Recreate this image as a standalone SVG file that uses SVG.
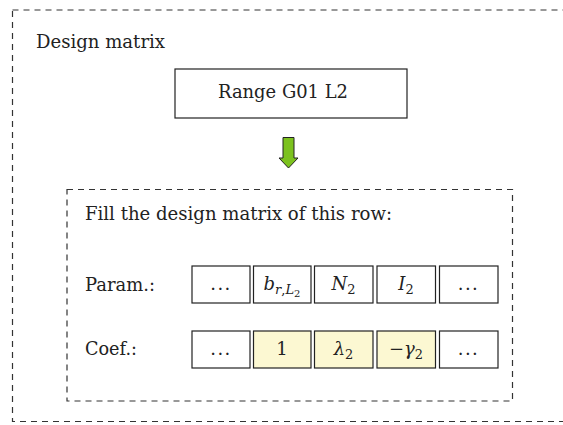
<svg xmlns="http://www.w3.org/2000/svg" width="563" height="425" viewBox="0 0 563 425">
<defs>
<style>
.dash{fill:none;stroke:#333;stroke-width:1.2;stroke-dasharray:6 5}
.box{fill:#fff;stroke:#222;stroke-width:1.2}
.hl{fill:#FCF8D2;stroke:#222;stroke-width:1.2}
.c{text-anchor:middle}
.it{font-style:italic}
.sub{font-size:13px}
</style>
</defs>
<rect width="563" height="425" fill="#fff"/>
<g font-family="'DejaVu Serif', serif" font-size="18" fill="#222">
<g id="outer">
<rect class="dash" x="12.5" y="10" width="560" height="411.5"/>
<text x="36" y="48" textLength="129" lengthAdjust="spacingAndGlyphs">Design matrix</text>
</g>
<g id="range">
<rect class="box" x="175" y="69" width="232" height="49"/>
<text x="283" y="98" class="c" textLength="130" lengthAdjust="spacingAndGlyphs">Range G01 L2</text>
</g>
<g id="connectors">
<polygon points="283,137.5 294,137.5 294,158 298,158 288.5,168 279,158 283,158" fill="#7CC21E" stroke="#222" stroke-width="1"/>
</g>
<g id="fill">
<rect class="dash" x="67" y="189.5" width="445.5" height="211.5"/>
<text x="85" y="220" textLength="307" lengthAdjust="spacingAndGlyphs">Fill the design matrix of this row:</text>
<text x="85" y="291" textLength="70" lengthAdjust="spacingAndGlyphs">Param.:</text>
<text x="85" y="355" textLength="52" lengthAdjust="spacingAndGlyphs">Coef.:</text>
</g>
<g id="param-row">
<rect class="box" x="192" y="266" width="58" height="37"/>
<text x="221" y="290" class="c" letter-spacing="1.5">...</text>
<rect class="box" x="253.5" y="266" width="57.5" height="37"/>
<text x="282" y="290" class="c"><tspan class="it">b</tspan><tspan class="sub it" dy="4">r</tspan><tspan class="sub">,</tspan><tspan class="sub it">L</tspan><tspan font-size="10" dy="3">2</tspan></text>
<rect class="box" x="314.5" y="266" width="58.5" height="37"/>
<text x="343.5" y="290" class="c"><tspan class="it">N</tspan><tspan class="sub" dy="4">2</tspan></text>
<rect class="box" x="377" y="266" width="58.5" height="37"/>
<text x="406" y="290" class="c"><tspan class="it">I</tspan><tspan class="sub" dy="4">2</tspan></text>
<rect class="box" x="439.5" y="266" width="58.5" height="37"/>
<text x="468.5" y="290" class="c" letter-spacing="1.5">...</text>
</g>
<g id="coef-row">
<rect class="box" x="192" y="331" width="58" height="37"/>
<text x="221" y="355" class="c" letter-spacing="1.5">...</text>
<rect class="hl" x="253.5" y="331" width="57.5" height="37"/>
<text x="282" y="355" class="c">1</text>
<rect class="hl" x="314.5" y="331" width="58.5" height="37"/>
<text x="343.5" y="355" class="c"><tspan class="it">λ</tspan><tspan class="sub" dy="4">2</tspan></text>
<rect class="hl" x="377" y="331" width="58.5" height="37"/>
<text x="406" y="355" class="c">−<tspan class="it">γ</tspan><tspan class="sub" dy="4">2</tspan></text>
<rect class="box" x="439.5" y="331" width="58.5" height="37"/>
<text x="468.5" y="355" class="c" letter-spacing="1.5">...</text>
</g>
</g>
</svg>
